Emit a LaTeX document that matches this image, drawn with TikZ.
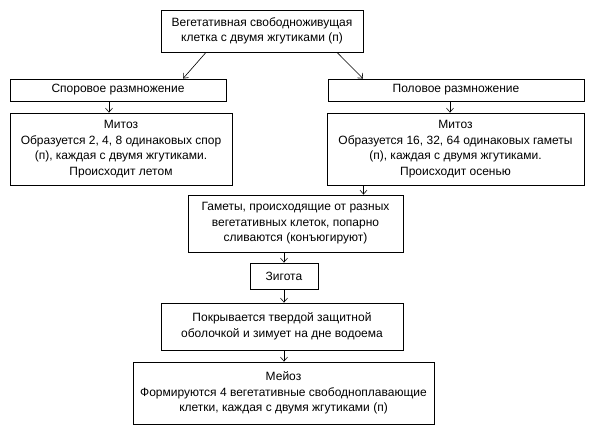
\documentclass[tikz,border=0pt]{standalone}
\usepackage{fontspec}
\setmainfont{Liberation Sans}
\usepackage{tikz}
\usetikzlibrary{arrows.meta}
\tikzset{>={Straight Barb[length=4pt,width=7pt]}}

\begin{document}
\begin{tikzpicture}[x=1pt, y=-1pt,
squarednode/.style={rectangle, align=center, draw=black, line width=0.8pt, inner sep=0pt, font=\fontsize{12}{15.5}\selectfont},
]
\useasboundingbox (0,0) rectangle (592,435);
%Nodes
\node[squarednode, minimum width=202, minimum height=42](Free Cell) at (262,31){Вегетативная свободноживущая\\клетка с двумя жгутиками (п)};
\node[squarednode, minimum width=216, minimum height=22](Spore Reproduction) at (118,90){Споровое размножение};
\node[squarednode, minimum width=256, minimum height=22](Sexual Reproduction) at (456,90){Половое размножение};
\node[squarednode, minimum width=222, minimum height=72](Spore Mitosis) at (121,149){Митоз\\Образуется 2, 4, 8 одинаковых спор\\(п), каждая с двумя жгутиками.\\Происходит летом};
\node[squarednode, minimum width=257, minimum height=72](Gamete Mitosis) at (455.5,149){Митоз\\Образуется 16, 32, 64 одинаковых гаметы\\(п), каждая с двумя жгутиками.\\Происходит осенью};
\node[squarednode, minimum width=215, minimum height=57](Conjugation) at (295.5,223.5){Гаметы, происходящие от разных\\вегетативных клеток, попарно\\сливаются (конъюгируют)};
\node[squarednode, minimum width=68, minimum height=26](Zygote) at (284,276){Зигота};
\node[squarednode, minimum width=242, minimum height=47](Shell) at (282,326.5){Покрывается твердой защитной\\оболочкой и зимует на дне водоема};
\node[squarednode, minimum width=301, minimum height=62](Meiosis) at (283.5,393){Мейоз\\Формируются 4 вегетативные свободноплавающие\\клетки, каждая с двумя жгутиками (п)};

%Lines
\draw[->, line width=0.6pt] ([xshift=-56pt]Free Cell.south) -- ([xshift=65pt]Spore Reproduction.north);
\draw[->, line width=0.6pt] ([xshift=75pt]Free Cell.south) -- ([xshift=-93pt]Sexual Reproduction.north);
\draw[->, line width=0.6pt] ([xshift=-9pt]Spore Reproduction.south) -- ([xshift=-9pt]Spore Reproduction.south |- Spore Mitosis.north);
\draw[->, line width=0.6pt] ([xshift=-6pt]Sexual Reproduction.south) -- ([xshift=-6pt]Sexual Reproduction.south |- Gamete Mitosis.north);
\draw[->, line width=0.6pt] ([xshift=-92pt]Gamete Mitosis.south) -- ([xshift=-92pt]Gamete Mitosis.south |- Conjugation.north);
\draw[->, line width=0.6pt] (Conjugation.south -| Zygote.north) -- (Zygote.north);
\draw[->, line width=0.6pt] (Zygote.south) -- (Zygote.south |- Shell.north);
\draw[->, line width=0.6pt] (Zygote.south |- Shell.south) -- (Zygote.south |- Meiosis.north);
\end{tikzpicture}
\end{document}
